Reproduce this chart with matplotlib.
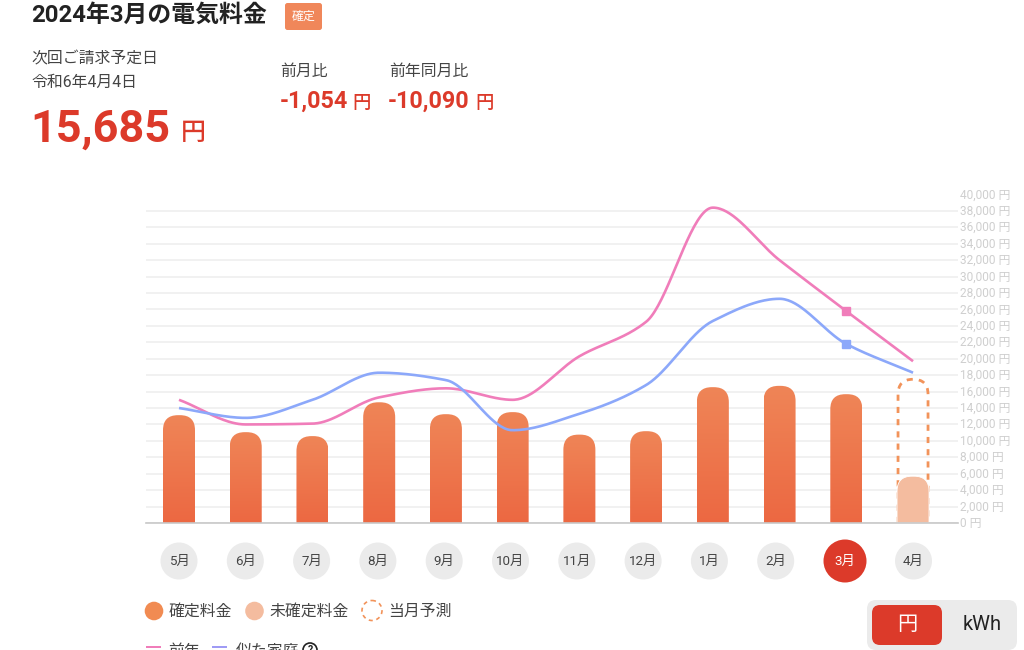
import numpy as np
import matplotlib
matplotlib.use("Agg")
import matplotlib.pyplot as plt
from matplotlib.patches import PathPatch, FancyBboxPatch, Circle, Rectangle
from matplotlib.path import Path
from matplotlib.transforms import ScaledTranslation

plt.rcParams['font.family'] = ['Roboto', 'Noto Sans CJK JP', 'DejaVu Sans']

months = ['5月', '6月', '7月', '8月', '9月', '10月', '11月', '12月', '1月', '2月', '3月', '4月']
confirmed = [13130, 11060, 10580, 14700, 13250, 13500, 10760, 11180, 16540, 16700, 15685]
unconfirmed_april = 5700
forecast_april = 17500
last_year = [15000, 12000, 12100, 15300, 16400, 15000, 20300, 24500, 38400, 32000, 25800, 19700]
similar_home = [14000, 12800, 15000, 18300, 17400, 11300, 13300, 16800, 24600, 27300, 21800, 18300]
y_ticks = list(range(0, 40001, 2000))

ORANGE_TOP = '#EF8557'
ORANGE_BOT = '#EC6842'
LIGHT = '#F4BC9F'
RED = '#DC3A2A'
PINK = '#F07DBA'
BLUE = '#8CA8FA'
DARK = '#222222'
TXT = '#444444'

W, H = 1024, 650
fig = plt.figure(figsize=(W / 100, H / 100), dpi=100, facecolor='white')

# pixel overlay for the page furniture
ui = fig.add_axes([0, 0, 1, 1], zorder=5)
ui.set_xlim(0, W)
ui.set_ylim(H, 0)
ui.axis('off')
ui.patch.set_alpha(0)

# chart axes: x px 146..958, y px 523 (0) .. 194.5 (40000)
X0, DX = 179.0, 66.73
ax = fig.add_axes([146 / W, 1 - 523 / H, (958 - 146) / W, (523 - 194.5) / H])
ax.patch.set_alpha(0)
for s in ['top', 'left', 'right']:
    ax.spines[s].set_visible(False)
ax.spines['bottom'].set_color('#C8C8C8')
ax.spines['bottom'].set_linewidth(1.2)
ax.set_yticks(y_ticks)
ax.set_yticklabels([f'{v:,} 円' for v in y_ticks], fontsize=8.6, color='#CFCFCF')
ax.yaxis.tick_right()
ax.tick_params(axis='y', length=0, pad=1.5)
up = ScaledTranslation(0, 1.2 / 100, fig.dpi_scale_trans)
for lab in ax.get_yticklabels():
    lab.set_transform(lab.get_transform() + up)
ax.grid(axis='y', color='#EEEEEE', linewidth=1.1)
ax.set_axisbelow(True)

xs = np.arange(len(months))
ax.set_xticks([])

# month selector: an independent flex row, wider around the selected month
for i, m in enumerate(months):
    cx = 179 + 66.3 * i if i < 10 else (845 if i == 10 else 913.5)
    selected = i == 10
    ui.add_patch(Circle((cx, 561), 21.5 if selected else 18.5, fc=RED if selected else '#EBEBEB', ec='none'))
    ui.text(cx, 561.5, m, fontsize=9.6, color='white' if selected else TXT, va='center', ha='center')

BAR_W = 32 / DX
RX = 15 / DX
RY = 15 * 40000 / 328.5


def rounded_bar(xc, height, width=BAR_W):
    l, r = xc - width / 2, xc + width / 2
    ry = min(RY, height)
    verts = [(l, 0), (l, height - ry), (l, height), (l + RX, height),
             (r - RX, height), (r, height), (r, height - ry), (r, 0), (l, 0)]
    codes = [Path.MOVETO, Path.LINETO, Path.CURVE3, Path.CURVE3,
             Path.LINETO, Path.CURVE3, Path.CURVE3, Path.LINETO, Path.CLOSEPOLY]
    return Path(verts, codes)


def to_rgb(c):
    return np.array(matplotlib.colors.to_rgb(c))


ramp = np.linspace(0, 1, 128)[:, None, None]
grad = ramp * to_rgb(ORANGE_TOP) + (1 - ramp) * to_rgb(ORANGE_BOT)
for i, v in enumerate(confirmed):
    p = PathPatch(rounded_bar(xs[i], v), facecolor='none', edgecolor='none', transform=ax.transData)
    ax.add_patch(p)
    im = ax.imshow(grad[::-1], extent=[xs[i] - BAR_W / 2, xs[i] + BAR_W / 2, 0, v], aspect='auto', zorder=2, origin='upper')
    im.set_clip_path(p)

# forecast outline then unconfirmed bar
ax.add_patch(PathPatch(rounded_bar(xs[11], forecast_april, width=30 / DX), facecolor='none', edgecolor='#F2935A',
                       linewidth=2.0, linestyle=(0, (2.2, 2.2)), zorder=2.2))
ax.add_patch(PathPatch(rounded_bar(xs[11], unconfirmed_april), facecolor=LIGHT, edgecolor='white', linewidth=0.6, zorder=2.4))
ax.set_xlim((146 - X0) / DX, (958 - X0) / DX)
ax.set_ylim(0, 40000)


def monotone(y):
    y = np.asarray(y, float)
    d = np.diff(y)
    m = np.zeros_like(y)
    m[0], m[-1] = d[0], d[-1]
    for k in range(1, len(y) - 1):
        if d[k - 1] * d[k] > 0:
            m[k] = 2 * d[k - 1] * d[k] / (d[k - 1] + d[k])
    tx, ty = [], []
    for k in range(len(y) - 1):
        t = np.linspace(0, 1, 40)
        h00 = 2 * t**3 - 3 * t**2 + 1
        h10 = t**3 - 2 * t**2 + t
        h01 = -2 * t**3 + 3 * t**2
        h11 = t**3 - t**2
        tx.append(k + t)
        ty.append(h00 * y[k] + h10 * m[k] + h01 * y[k + 1] + h11 * m[k + 1])
    return np.concatenate(tx), np.concatenate(ty)


for series, col in [(last_year, PINK), (similar_home, BLUE)]:
    cx, cy = monotone(series)
    ax.plot(cx, cy, color=col, linewidth=1.9, zorder=4, solid_capstyle='butt')
    ax.plot(xs[10], series[10], marker='s', markersize=6, color=col, zorder=5, linestyle='none')

# header
ui.text(31.5, 15, '2024年3月の電気料金', fontsize=17.2, fontweight='bold', color=DARK, va='center', ha='left')
ui.add_patch(FancyBboxPatch((285, 3), 37, 27, boxstyle='round,pad=0,rounding_size=2.5', fc='#F0875A', ec='none'))
ui.text(303.5, 16.5, '確定', fontsize=8.6, color='white', va='center', ha='center')
ui.text(31.5, 58.5, '次回ご請求予定日', fontsize=11.4, color=TXT, va='center')
ui.text(31.5, 82.5, '令和6年4月4日', fontsize=11.4, color=TXT, va='center')
ui.text(30.5, 130, '15,685', fontsize=32.4, fontweight='bold', color=RED, va='center')
ui.text(181, 133.5, '円', fontsize=18, fontweight='medium', color=RED, va='center')
ui.text(280.5, 71.5, '前月比', fontsize=11.4, color=TXT, va='center')
ui.text(389, 71.5, '前年同月比', fontsize=11.4, color=TXT, va='center')
ui.text(280, 101.5, '-1,054', fontsize=16.8, fontweight='bold', color=RED, va='center')
ui.text(352.5, 102.5, '円', fontsize=13.2, fontweight='medium', color=RED, va='center')
ui.text(388, 101.5, '-10,090', fontsize=16.8, fontweight='bold', color=RED, va='center')
ui.text(475.5, 102.5, '円', fontsize=13.2, fontweight='medium', color=RED, va='center')

# legend
ui.add_patch(Circle((154, 611), 9.3, fc='#F18B52', ec='none'))
ui.text(169, 611.5, '確定料金', fontsize=11.4, color=TXT, va='center')
ui.add_patch(Circle((254.5, 611), 9.3, fc=LIGHT, ec='none'))
ui.text(269.5, 611.5, '未確定料金', fontsize=11.4, color=TXT, va='center')
ui.add_patch(Circle((372, 610.5), 10, fc='none', ec='#F2935A', lw=1.2, ls=(0, (2.4, 2.2))))
ui.text(388.5, 611.5, '当月予測', fontsize=11.4, color=TXT, va='center')
ui.add_patch(Rectangle((146, 646), 15, 2.4, fc=PINK, ec='none'))
ui.text(168.5, 651, '前年', fontsize=11.4, color=TXT, va='center', clip_on=True)
ui.add_patch(Rectangle((212, 646), 15, 2.4, fc='#9F9BF5', ec='none'))
ui.text(236, 651, '似た家庭', fontsize=11.4, color=TXT, va='center', clip_on=True)
ui.add_patch(Circle((310, 650), 7, fc='none', ec=DARK, lw=1.2))
ui.text(310, 650, '?', fontsize=7.5, fontweight='bold', color=DARK, va='center', ha='center', clip_on=True)

# unit toggle
ui.add_patch(FancyBboxPatch((867, 600), 150, 50, boxstyle='round,pad=0,rounding_size=9', fc='#EBEBEB', ec='none'))
ui.add_patch(FancyBboxPatch((872, 605), 70, 40, boxstyle='round,pad=0,rounding_size=8', fc=RED, ec='none'))
ui.text(907, 625, '円', fontsize=14.5, color='white', va='center', ha='center')
ui.text(982, 625, 'kWh', fontsize=14.5, color=DARK, va='center', ha='center')

fig.savefig('out.png', dpi=100, facecolor='white')
